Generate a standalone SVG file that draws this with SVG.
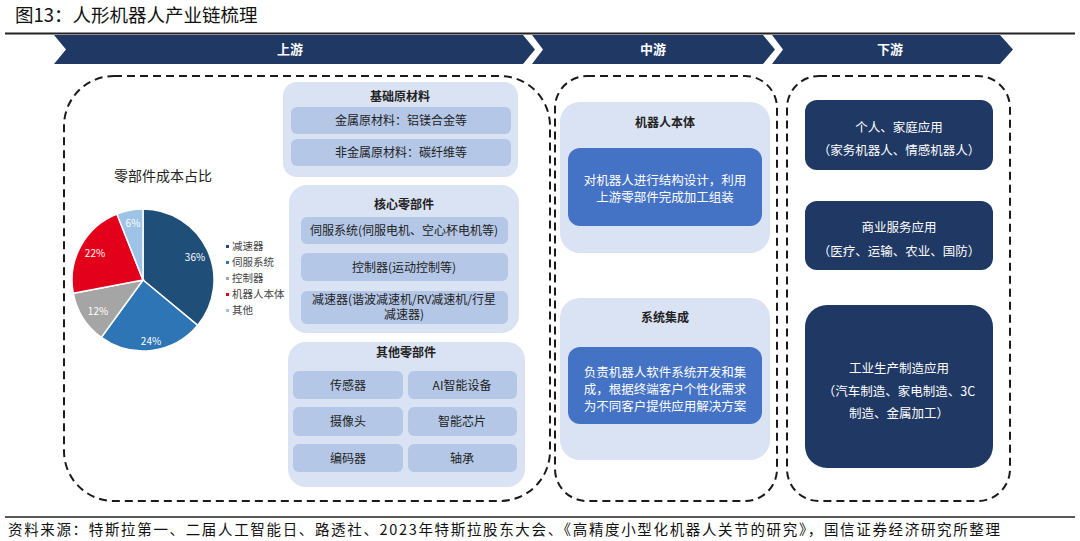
<svg xmlns="http://www.w3.org/2000/svg" width="1080" height="541" viewBox="0 0 1080 541">
<style>
text{font-family:"Noto Sans CJK SC","Noto Sans",sans-serif;}
.band{fill:#203864;}
.bandt{fill:#fff;font-size:13px;font-weight:bold;text-anchor:middle;}
.dash{fill:none;stroke:#1a1a1a;stroke-width:2;stroke-dasharray:8 5;}
.outer{fill:#dae3f3;}
.row{fill:#b4c7e7;}
.t{font-size:12px;fill:#222;text-anchor:middle;}
.tb{font-size:12px;fill:#222;text-anchor:middle;font-weight:bold;}
.blue{fill:#4472c4;}
.navy{fill:#1f3864;}
.w{font-size:12.5px;fill:#fff;text-anchor:middle;}
.lg{font-size:10.5px;fill:#444;}
.pl{font-size:10px;fill:#fff;text-anchor:middle;}
</style>
<rect width="1080" height="541" fill="#fff"/>
<text x="15" y="22" font-size="18.5" fill="#111">图13：人形机器人产业链梳理</text>
<line x1="5" y1="33.5" x2="1075" y2="33.5" stroke="#222" stroke-width="2"/>
<g id="banner">
<polygon class="band" points="54,35 523,35 535,49.5 523,64 54,64 66,49.5"/>
<polygon class="band" points="532,35 763,35 775,49.5 763,64 532,64 543,49.5"/>
<polygon class="band" points="772,35 1000,35 1013,49.5 1000,64 772,64 783,49.5"/>
<text class="bandt" x="290" y="54">上游</text>
<text class="bandt" x="653" y="54">中游</text>
<text class="bandt" x="890" y="54">下游</text>
</g>
<g id="containers">
<rect class="dash" x="64" y="76" width="486" height="425" rx="50"/>
<rect class="dash" x="555" y="76" width="222" height="425" rx="32"/>
<rect class="dash" x="787" y="76" width="223" height="425" rx="32"/>
</g>
<g id="pie">
<text x="163" y="181" font-size="14" fill="#222" text-anchor="middle">零部件成本占比</text>
<g stroke="#fff" stroke-width="1.5">
<path d="M143,280 L143,209 A71,71 0 0 1 197.7,325.3 Z" fill="#1f4e79"/>
<path d="M143,280 L197.7,325.3 A71,71 0 0 1 101.3,337.4 Z" fill="#2e75b6"/>
<path d="M143,280 L101.3,337.4 A71,71 0 0 1 73.3,293.3 Z" fill="#a5a5a5"/>
<path d="M143,280 L73.3,293.3 A71,71 0 0 1 116.9,214 Z" fill="#e3001b"/>
<path d="M143,280 L116.9,214 A71,71 0 0 1 143,209 Z" fill="#9dc3e6"/>
</g>
<text class="pl" x="195" y="261">36%</text>
<text class="pl" x="151" y="345">24%</text>
<text class="pl" x="98" y="315">12%</text>
<text class="pl" x="95" y="257">22%</text>
<text class="pl" x="133" y="227" fill="#333">6%</text>
<g id="legend">
<rect x="226" y="245" width="3" height="3" fill="#1f4e79"/><text class="lg" x="232" y="250">减速器</text>
<rect x="226" y="261" width="3" height="3" fill="#2e75b6"/><text class="lg" x="232" y="266">伺服系统</text>
<rect x="226" y="277" width="3" height="3" fill="#a5a5a5"/><text class="lg" x="232" y="282">控制器</text>
<rect x="226" y="293" width="3" height="3" fill="#e3001b"/><text class="lg" x="232" y="298">机器人本体</text>
<rect x="226" y="309" width="3" height="3" fill="#9dc3e6"/><text class="lg" x="232" y="314">其他</text>
</g>
</g>
<g id="raw-materials">
<rect class="outer" x="283" y="82" width="235" height="95" rx="14"/>
<text class="tb" x="400" y="101">基础原材料</text>
<rect class="row" x="291" y="107" width="220" height="27" rx="6"/>
<text class="t" x="401" y="125">金属原材料：铝镁合金等</text>
<rect class="row" x="291" y="139" width="220" height="27" rx="6"/>
<text class="t" x="401" y="157">非金属原材料：碳纤维等</text>
</g>
<g id="core-parts">
<rect class="outer" x="289" y="185" width="230" height="148" rx="18"/>
<text class="tb" x="404" y="209">核心零部件</text>
<rect class="row" x="301" y="217" width="207" height="27" rx="6"/>
<text class="t" x="404" y="235">伺服系统(伺服电机、空心杯电机等)</text>
<rect class="row" x="301" y="253" width="207" height="28" rx="6"/>
<text class="t" x="404" y="272">控制器(运动控制等)</text>
<rect class="row" x="301" y="291" width="207" height="33" rx="6"/>
<text class="t" x="404" y="303.5" font-size="10.5">减速器(谐波减速机/RV减速机/行星</text>
<text class="t" x="404" y="319" font-size="10.5">减速器)</text>
</g>
<g id="other-parts">
<rect class="outer" x="288" y="342" width="237" height="145" rx="18"/>
<text class="tb" x="406" y="357">其他零部件</text>
<rect class="row" x="293" y="371" width="110" height="28" rx="6"/>
<text class="t" x="348" y="390">传感器</text>
<rect class="row" x="408" y="371" width="109" height="28" rx="6"/>
<text class="t" x="462" y="390">AI智能设备</text>
<rect class="row" x="293" y="407" width="110" height="29" rx="6"/>
<text class="t" x="348" y="426">摄像头</text>
<rect class="row" x="408" y="407" width="109" height="29" rx="6"/>
<text class="t" x="462" y="426">智能芯片</text>
<rect class="row" x="293" y="444" width="110" height="28" rx="6"/>
<text class="t" x="348" y="463">编码器</text>
<rect class="row" x="408" y="444" width="109" height="28" rx="6"/>
<text class="t" x="462" y="463">轴承</text>
</g>
<g id="robot-body">
<rect class="outer" x="560" y="102" width="210" height="151" rx="20"/>
<text class="tb" x="665" y="127">机器人本体</text>
<rect class="blue" x="568" y="148" width="194" height="78" rx="12"/>
<text class="w" x="665" y="185">对机器人进行结构设计，利用</text>
<text class="w" x="665" y="202">上游零部件完成加工组装</text>
</g>
<g id="system-integration">
<rect class="outer" x="560" y="298" width="210" height="162" rx="20"/>
<text class="tb" x="665" y="322">系统集成</text>
<rect class="blue" x="568" y="347" width="194" height="77" rx="12"/>
<text class="w" x="665" y="377">负责机器人软件系统开发和集</text>
<text class="w" x="665" y="394">成，根据终端客户个性化需求</text>
<text class="w" x="665" y="411">为不同客户提供应用解决方案</text>
</g>
<g id="home-app">
<rect class="navy" x="805" y="100" width="188" height="70" rx="12"/>
<text class="w" x="899" y="132">个人、家庭应用</text>
<text class="w" x="899" y="155">（家务机器人、情感机器人）</text>
</g>
<g id="commercial-app">
<rect class="navy" x="805" y="201" width="188" height="69" rx="12"/>
<text class="w" x="899" y="232">商业服务应用</text>
<text class="w" x="899" y="256">（医疗、运输、农业、国防）</text>
</g>
<g id="industrial-app">
<rect class="navy" x="805" y="305" width="188" height="163" rx="22"/>
<text class="w" x="899" y="373">工业生产制造应用</text>
<text class="w" x="899" y="396">（汽车制造、家电制造、3C</text>
<text class="w" x="899" y="418">制造、金属加工）</text>
</g>
<line x1="5" y1="517" x2="1075" y2="517" stroke="#222" stroke-width="1.5"/>
<text x="8" y="535" font-size="14.5" fill="#111" textLength="992" lengthAdjust="spacing">资料来源：特斯拉第一、二届人工智能日、路透社、2023年特斯拉股东大会、《高精度小型化机器人关节的研究》，国信证券经济研究所整理</text>
</svg>
